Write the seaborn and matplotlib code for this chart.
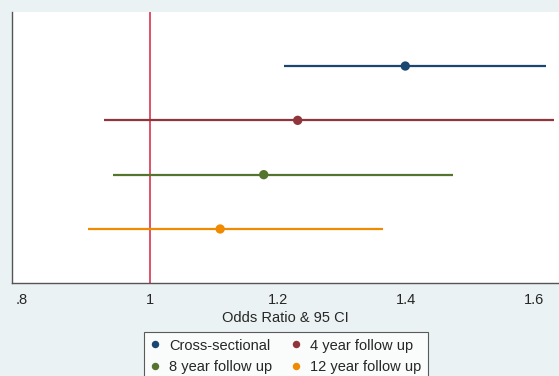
import matplotlib
matplotlib.use("Agg")
import matplotlib.pyplot as plt
import seaborn as sns
import pandas as pd

groups = ["Cross-sectional", "4 year follow up", "8 year follow up", "12 year follow up"]
odds = [1.399, 1.231, 1.178, 1.110]
lower = [1.210, 0.929, 0.943, 0.904]
upper = [1.618, 1.631, 1.474, 1.364]
xticks = [0.8, 1.0, 1.2, 1.4, 1.6]
xticklabels = [".8", "1", "1.2", "1.4", "1.6"]
colors = ["#1A476F", "#90353B", "#55752F", "#F08A00"]

df = pd.DataFrame({"group": groups, "odds": odds, "lower": lower, "upper": upper,
                   "pos": [1, 2, 3, 4]})

sns.set_style("white")
plt.rcParams["font.family"] = ["Liberation Sans", "DejaVu Sans"]

bg = "#EAF2F3"
fig = plt.figure(figsize=(5.59, 3.76), dpi=100, facecolor=bg)
ax = fig.add_axes([11.7 / 559, 1 - 283.3 / 376, 1 - 11.7 / 559, (283.3 - 11.7) / 376])
ax.set_facecolor("white")

ax.axvline(1.0, color="#D8334F", lw=1.2, zorder=1)
for i, row in df.iterrows():
    ax.hlines(row["pos"], row["lower"], row["upper"], color=colors[i], lw=1.6, zorder=2)

sns.scatterplot(data=df, x="odds", y="pos", hue="group", palette=colors,
                s=45, edgecolor="none", zorder=3, ax=ax, legend=True)

ax.set_xlim(0.7845, 1.639)
ax.set_ylim(5.0, 0.0)
ax.set_xticks(xticks)
ax.set_xticklabels(xticklabels, fontsize=10.5)
ax.set_yticks([2.5])
ax.set_yticklabels([""])
ax.set_xlabel("Odds Ratio & 95 CI", fontsize=10.5, labelpad=3)
ax.set_ylabel("")
ax.tick_params(axis="x", direction="out", length=4, width=0.8, color="#333333", pad=3)
ax.tick_params(axis="y", direction="out", length=5, width=0.8, color="#333333")

for s in ["top", "right"]:
    ax.spines[s].set_visible(False)
for s in ["left", "bottom"]:
    ax.spines[s].set_color("#555555")
    ax.spines[s].set_linewidth(1.0)

handles, labels = ax.get_legend_handles_labels()
ax.legend_.remove()
order = [0, 2, 1, 3]
leg = fig.legend([handles[k] for k in order], [labels[k] for k in order], loc="upper left",
                 bbox_to_anchor=(143.7 / 559, 1 - 332 / 376), ncol=2,
                 fontsize=10.5, frameon=True, fancybox=False, edgecolor="#333333",
                 handletextpad=0.7, columnspacing=1.3, borderpad=0.45,
                 labelspacing=0.5, handlelength=0.6, markerscale=0.8,
                 borderaxespad=0.0)
leg.get_frame().set_linewidth(0.8)

fig.savefig("out.png", dpi=100, facecolor=bg)
